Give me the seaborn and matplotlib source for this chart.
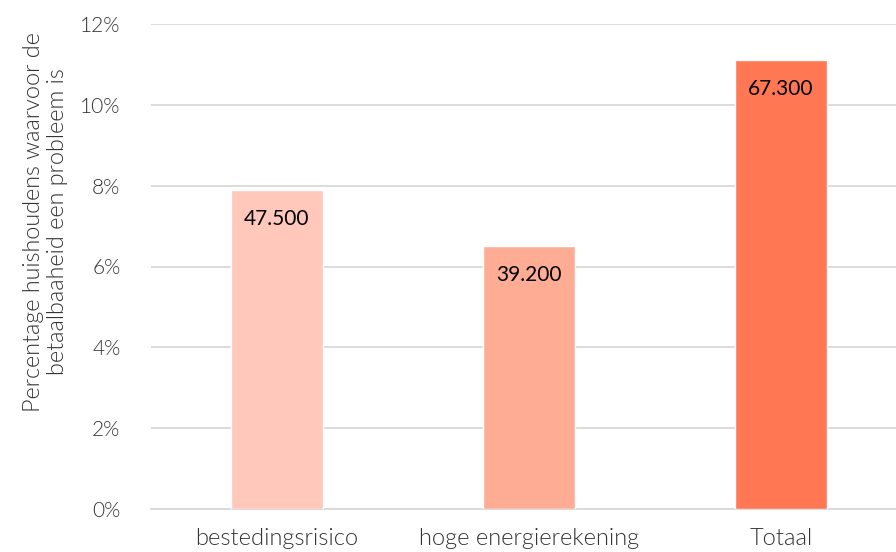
import matplotlib
matplotlib.use("Agg")
import matplotlib.pyplot as plt
import seaborn as sns
import pandas as pd
from matplotlib.ticker import FuncFormatter

categories = ["bestedingsrisico", "hoge energierekening", "Totaal"]
percentages = [7.9, 6.5, 11.1]
counts = ["47.500", "39.200", "67.300"]
colors = ["#FFC8BA", "#FFAC95", "#FF7753"]
ylabel = "Percentage huishoudens waarvoor de\nbetaalbaaheid een probleem is"

sns.set_theme(style="white")
plt.rcParams['font.family'] = ['Lato', 'DejaVu Sans']

df = pd.DataFrame({"cat": categories, "pct": percentages})

fig = plt.figure(figsize=(8.96, 5.52), dpi=100)
ax = fig.add_axes([151/896, 1 - 509/552, 1 - 151/896, (509 - 24)/552])

sns.barplot(data=df, x="cat", y="pct", hue="cat", palette=colors, legend=False,
            width=0.365, saturation=1, ax=ax, zorder=3)

ax.set_ylim(0, 12)
ax.set_xlim(-0.5, 2.456)
ax.set_yticks(range(0, 13, 2))
ax.yaxis.set_major_formatter(FuncFormatter(lambda v, p: f"{int(v)}%"))
ax.grid(axis="y", color="#D9D9D9", linewidth=1.3, zorder=0)
ax.set_axisbelow(True)
for s in ["top", "right", "left"]:
    ax.spines[s].set_visible(False)
ax.spines["bottom"].set_color("#D9D9D9")
ax.spines["bottom"].set_linewidth(1.3)
ax.tick_params(axis="both", length=0, colors="#333333")
ax.tick_params(axis="y", pad=22, labelsize=15)
ax.tick_params(axis="x", pad=14, labelsize=17)
for lab in ax.get_xticklabels() + ax.get_yticklabels():
    lab.set_fontweight(300)
ax.set_xlabel("")
ax.set_ylabel(ylabel, fontsize=16.8, color="#333333", fontweight=300,
              linespacing=1.2)
ax.yaxis.set_label_coords(-0.111, 0.592)

for i, (p, c) in enumerate(zip(percentages, counts)):
    ax.text(i, p - 0.72, c, ha="center", va="center", fontsize=15, color="black")

fig.savefig("out.png", dpi=100)
